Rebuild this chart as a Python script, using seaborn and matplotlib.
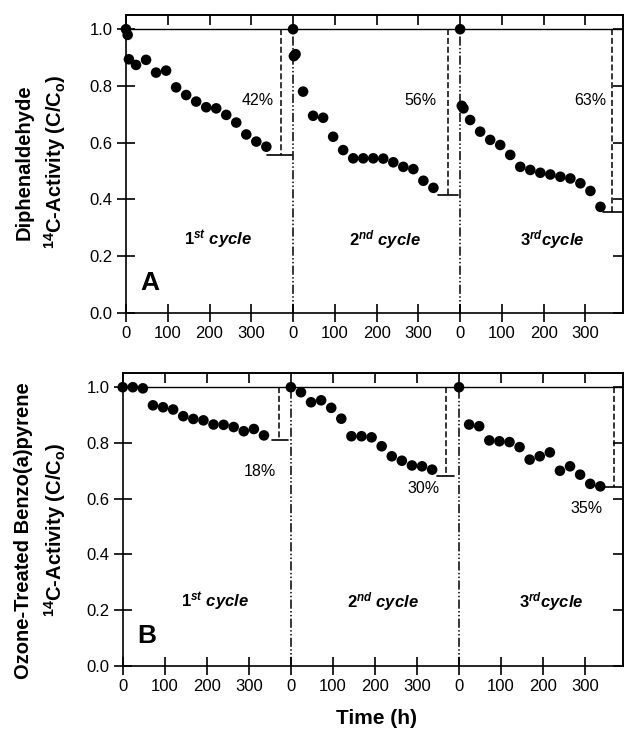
import numpy as np
import pandas as pd
import matplotlib
matplotlib.use("Agg")
import matplotlib.pyplot as plt
import seaborn as sns

# ----------------------------------------
# Data (time in h within each cycle, C/Co)
# ----------------------------------------

CYCLE_LEN = 400

a_c1_t = [0, 4, 7, 24, 48, 72, 96, 120, 144, 168, 192, 216, 240, 264, 288, 312, 336]
a_c1_v = [1.0, 0.98, 0.894, 0.874, 0.892, 0.847, 0.854, 0.795, 0.768, 0.745,
          0.725, 0.721, 0.698, 0.671, 0.629, 0.604, 0.586]
a_c2_t = [0, 2, 6, 24, 48, 72, 96, 120, 144, 168, 192, 216, 240, 264, 288, 312, 336]
a_c2_v = [1.0, 0.905, 0.912, 0.780, 0.695, 0.688, 0.621, 0.574, 0.545, 0.545,
          0.545, 0.544, 0.531, 0.515, 0.507, 0.466, 0.441]
a_c3_t = [0, 4, 8, 24, 48, 72, 96, 120, 144, 168, 192, 216, 240, 264, 288, 312, 336]
a_c3_v = [1.0, 0.730, 0.721, 0.680, 0.639, 0.610, 0.592, 0.557, 0.515, 0.504,
          0.494, 0.488, 0.480, 0.474, 0.457, 0.430, 0.374]

b_t = [0, 24, 48, 72, 96, 120, 144, 168, 192, 216, 240, 264, 288, 312, 336]
b_c1_v = [1.0, 1.0, 0.996, 0.935, 0.928, 0.920, 0.896, 0.886, 0.881, 0.866,
          0.865, 0.857, 0.842, 0.850, 0.827]
b_c2_v = [1.0, 0.982, 0.946, 0.953, 0.926, 0.887, 0.824, 0.824, 0.820, 0.788,
          0.752, 0.736, 0.719, 0.716, 0.704]
b_c3_v = [1.0, 0.866, 0.860, 0.809, 0.806, 0.803, 0.785, 0.740, 0.752, 0.766,
          0.700, 0.716, 0.686, 0.653, 0.644]

# final levels and removal labels
a_levels = [0.556, 0.415, 0.357]
b_levels = [0.812, 0.682, 0.641]
a_pct = ["42%", "56%", "63%"]
b_pct = ["18%", "30%", "35%"]

cycle_labels = [r"$\mathit{1^{st}}$ cycle", r"$\mathit{2^{nd}}$ cycle", r"$\mathit{3^{rd}}$cycle"]

# ----------------------------------------
# Annotation placement
# ----------------------------------------

a_drop_x = [372, 371, 363]
a_seg = [(338, 398), (347, 395), (341, 400)]
a_pct_pos = [(315, 0.749), (305, 0.749), (311, 0.749)]

b_drop_x = [372, 368, 368]
b_seg = [(354, 394), (348, 388), (348, 392)]
b_pct_pos = [(326, 0.699), (315, 0.636), (303, 0.566)]

# ----------------------------------------
# Style
# ----------------------------------------

sns.set_style("ticks")
plt.rcParams["font.family"] = ["Liberation Sans", "DejaVu Sans"]
plt.rcParams["mathtext.fontset"] = "custom"
plt.rcParams["mathtext.rm"] = "Liberation Sans:bold"
plt.rcParams["mathtext.bf"] = "Liberation Sans:bold"
plt.rcParams["mathtext.it"] = "Liberation Sans:bold:italic"
plt.rcParams["axes.linewidth"] = 1.2
for key in ["text.color", "axes.labelcolor", "axes.edgecolor",
            "xtick.color", "ytick.color"]:
    plt.rcParams[key] = "black"


def make_df(ts, vs):
    rows = []
    for k, (t, v) in enumerate(zip(ts, vs)):
        for ti, vi in zip(t, v):
            rows.append({"time": ti + k * CYCLE_LEN, "value": vi, "cycle": k + 1})
    return pd.DataFrame(rows)


df_a = make_df([a_c1_t, a_c2_t, a_c3_t], [a_c1_v, a_c2_v, a_c3_v])
df_b = make_df([b_t, b_t, b_t], [b_c1_v, b_c2_v, b_c3_v])

fig = plt.figure(figsize=(6.24, 7.32), dpi=100)
axA = fig.add_axes([126 / 624, 1 - 313 / 732, 497 / 624, 298 / 732])
axB = fig.add_axes([122.7 / 624, 1 - 665.7 / 732, 500.3 / 624, 292.4 / 732])

xticks = [c * CYCLE_LEN + h for c in range(3) for h in (0, 100, 200, 300)]
xticklabels = [str(t % CYCLE_LEN) for t in xticks]
yticks = [0.0, 0.2, 0.4, 0.6, 0.8, 1.0]


def draw_panel(ax, df, levels, pct, drop_x, seg, pct_pos, letter, label_y):
    ax.set_xlim(0, 1190)
    ax.set_ylim(0, 1.05)

    # reference line at C/Co = 1
    ax.axhline(1.0, color="black", lw=1.0, zorder=2)

    for k in range(3):
        x0 = k * CYCLE_LEN
        if k > 0:
            ax.plot([x0, x0], [0, 1.0], color="black", lw=1.1,
                    linestyle=(0, (6, 1.5, 1, 1.5, 1, 1.5)), zorder=2)
        ax.plot([x0 + drop_x[k]] * 2, [1.0, levels[k]], color="black", lw=1.1,
                linestyle=(0, (4, 1.8)), zorder=2)
        ax.plot([x0 + seg[k][0], x0 + seg[k][1]], [levels[k]] * 2,
                color="black", lw=1.2, zorder=2)
        ax.text(x0 + pct_pos[k][0], pct_pos[k][1], pct[k], fontsize=11.5,
                ha="center", va="center")
        ax.text(x0 + 220, label_y, cycle_labels[k], fontsize=12,
                fontweight="bold", fontstyle="italic", ha="center", va="center")

    sns.scatterplot(data=df, x="time", y="value", ax=ax, color="black",
                    s=58, edgecolor="none", legend=False, zorder=5, clip_on=False)

    ax.text(57, 0.105, letter, fontsize=19, fontweight="bold",
            ha="center", va="center")

    ax.set_xticks(xticks)
    ax.set_xticklabels(xticklabels)
    ax.set_yticks(yticks)
    ax.set_yticklabels([f"{v:.1f}" for v in yticks])
    ax.tick_params(direction="inout", length=13, width=1.2, labelsize=12, pad=3)
    ax.set_xlabel("")
    ax.set_ylabel("")
    for s in ax.spines.values():
        s.set_visible(True)

    top = ax.secondary_xaxis("top")
    top.set_xticks(xticks)
    top.tick_params(direction="in", length=7, width=1.2, labeltop=False)
    right = ax.secondary_yaxis("right")
    right.set_yticks(yticks)
    right.tick_params(direction="in", length=7, width=1.2, labelright=False)


draw_panel(axA, df_a, a_levels, a_pct, a_drop_x, a_seg, a_pct_pos, "A", 0.26)
draw_panel(axB, df_b, b_levels, b_pct, b_drop_x, b_seg, b_pct_pos, "B", 0.23)

# y labels (two lines each)
fig.text(24 / 624, 1 - 162 / 732, "Diphenaldehyde", rotation=90, fontsize=14.5,
         fontweight="bold", ha="center", va="center")
fig.text(55 / 624, 1 - 162 / 732, r"$^{14}$C-Activity (C/C$_\mathrm{o}$)",
         rotation=90, fontsize=14.5, fontweight="bold", ha="center", va="center")
fig.text(24 / 624, 1 - 531 / 732, "Ozone-Treated Benzo(a)pyrene", rotation=90,
         fontsize=14.5, fontweight="bold", ha="center", va="center")
fig.text(55 / 624, 1 - 530 / 732, r"$^{14}$C-Activity (C/C$_\mathrm{o}$)",
         rotation=90, fontsize=14.5, fontweight="bold", ha="center", va="center")

fig.text(377 / 624, 1 - 719 / 732, "Time (h)", fontsize=15, fontweight="bold",
         ha="center", va="center")

fig.savefig("out.png", dpi=100)
